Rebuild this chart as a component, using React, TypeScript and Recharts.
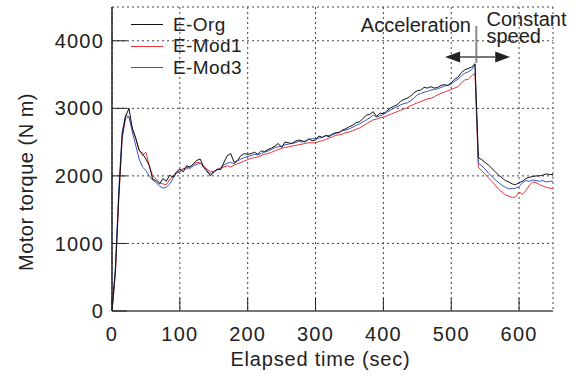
import React from 'react';
import {
  LineChart, Line, XAxis, YAxis, CartesianGrid, ReferenceLine,
} from 'recharts';

const times: number[] = [
  0, 5, 10, 15, 20, 25, 30, 35, 40, 45, 50, 55, 60, 65, 70, 75, 80, 85, 90, 95,
  100, 105, 110, 115, 120, 125, 130, 135, 140, 145, 150, 155, 160, 165, 170, 175, 180, 185, 190, 195,
  200, 205, 210, 215, 220, 225, 230, 235, 240, 245, 250, 255, 260, 265, 270, 275, 280, 285, 290, 295,
  300, 305, 310, 315, 320, 325, 330, 335, 340, 345, 350, 355, 360, 365, 370, 375, 380, 385, 390, 395,
  400, 405, 410, 415, 420, 425, 430, 435, 440, 445, 450, 455, 460, 465, 470, 475, 480, 485, 490, 495,
  500, 505, 510, 515, 520, 525, 530, 535, 540, 545, 550, 555, 560, 565, 570, 575, 580, 585, 590, 595,
  600, 605, 610, 615, 620, 625, 630, 635, 640, 645, 650,
];

const eOrg: number[] = [
  0, 600, 1700, 2600, 2880, 3000, 2700, 2560, 2380, 2330, 2250, 2150, 1950, 1930, 1880, 1960, 1920, 2010, 1980, 2060,
  2100, 2060, 2150, 2130, 2180, 2230, 2250, 2130, 2080, 2000, 2050, 2100, 2090, 2200, 2300, 2330, 2200, 2230, 2300, 2330,
  2320, 2330, 2350, 2320, 2370, 2360, 2390, 2410, 2440, 2480, 2420, 2500, 2490, 2480, 2510, 2530, 2520, 2500, 2550, 2520,
  2530, 2590, 2570, 2600, 2580, 2620, 2640, 2640, 2680, 2700, 2730, 2750, 2790, 2800, 2850, 2900, 2910, 2950, 2880, 2930,
  2920, 2960, 3000, 3030, 3050, 3100, 3130, 3150, 3180, 3230, 3260, 3270, 3310, 3300, 3320, 3300, 3310, 3340, 3350, 3340,
  3380, 3430, 3460, 3530, 3570, 3590, 3610, 3660, 2270, 2240, 2200, 2160, 2110, 2060, 2010, 1970, 1930, 1910, 1880, 1870,
  1900, 1920, 1960, 1980, 1990, 2000, 2000, 2010, 2030, 2020, 2020,
];

const eMod1: number[] = [
  0, 550, 1650, 2550, 2850, 2880, 2700, 2550, 2380, 2300, 2350, 2150, 2000, 1960, 1900, 1880, 1870, 1940, 2000, 2050,
  2070, 2110, 2100, 2140, 2170, 2200, 2190, 2150, 2100, 2060, 2070, 2090, 2110, 2130, 2150, 2130, 2160, 2180, 2200, 2220,
  2240, 2260, 2270, 2280, 2300, 2320, 2330, 2350, 2370, 2390, 2410, 2420, 2430, 2440, 2450, 2460, 2470, 2480, 2490, 2490,
  2490, 2510, 2520, 2540, 2560, 2580, 2600, 2610, 2620, 2640, 2650, 2670, 2690, 2710, 2740, 2770, 2800, 2830, 2840, 2860,
  2870, 2890, 2910, 2930, 2950, 2970, 2990, 3010, 3040, 3060, 3080, 3100, 3120, 3140, 3150, 3170, 3200, 3220, 3240, 3260,
  3280, 3300, 3320, 3380, 3420, 3430, 3480, 3520, 2120, 2080, 2020, 1970, 1920, 1860, 1800, 1760, 1720, 1700, 1680, 1690,
  1760, 1730, 1780, 1860, 1910, 1900, 1870, 1850, 1830, 1820, 1810,
];

const eMod3: number[] = [
  0, 650, 1800, 2650, 2900, 2870, 2650, 2450, 2250, 2130, 2080, 2000, 1940, 1900, 1850, 1820, 1830, 1880, 1960, 2040,
  2060, 2100, 2130, 2110, 2150, 2170, 2190, 2130, 2060, 2030, 2060, 2090, 2120, 2160, 2190, 2200, 2180, 2220, 2250, 2270,
  2290, 2300, 2320, 2310, 2330, 2350, 2370, 2390, 2420, 2430, 2440, 2460, 2470, 2480, 2490, 2510, 2500, 2520, 2540, 2550,
  2550, 2560, 2570, 2590, 2600, 2610, 2630, 2650, 2670, 2680, 2700, 2720, 2750, 2770, 2800, 2830, 2860, 2900, 2870, 2890,
  2910, 2940, 2970, 3000, 3020, 3050, 3070, 3080, 3110, 3150, 3200, 3220, 3240, 3250, 3270, 3280, 3290, 3310, 3330, 3340,
  3360, 3400, 3430, 3480, 3520, 3540, 3570, 3650, 2190, 2150, 2100, 2040, 1990, 1940, 1900, 1860, 1830, 1810, 1810, 1820,
  1840, 1900, 1930, 1920, 1940, 1930, 1920, 1930, 1910, 1920, 1920,
];

const xTicks: number[] = [0, 100, 200, 300, 400, 500, 600];
const yTicks: number[] = [0, 1000, 2000, 3000, 4000];
const seriesNames: string[] = ['E-Org', 'E-Mod1', 'E-Mod3'];
const seriesColors: string[] = ['#111111', '#e8343c', '#3558c0'];

const data = times.map((t, i) => ({ t, org: eOrg[i], mod1: eMod1[i], mod3: eMod3[i] }));

const FONT = '"Liberation Sans", Arial, sans-serif';
const TXT = '#222';

const arrowShape = (props: any) => {
  const { x1, y1, x2, y2 } = props;
  const h = 15;
  const w = 5.5;
  return (
    <g>
      <line x1={x1 + h} y1={y1} x2={x2 - h} y2={y2} stroke="#777" strokeWidth={2} />
      <polygon points={`${x1},${y1} ${x1 + h},${y1 - w} ${x1 + h},${y1 + w}`} fill="#222" />
      <polygon points={`${x2},${y2} ${x2 - h},${y2 - w} ${x2 - h},${y2 + w}`} fill="#222" />
    </g>
  );
};

const textShape = (lines: string[], anchor: 'start' | 'end', lineGap: number) => (props: any) => {
  const { x1, y1 } = props;
  return (
    <text x={x1} y={y1} textAnchor={anchor} fontFamily={FONT} fontSize={20} fill={TXT}>
      {lines.map((l, i) => (
        <tspan key={i} x={x1} dy={i === 0 ? 0 : lineGap}>{l}</tspan>
      ))}
    </text>
  );
};

const YTitle = (props: any) => {
  const vb = props.viewBox || {};
  const cx = 33;
  const cy = (vb.y ?? 7) + (vb.height ?? 304) / 2 + 23;
  return (
    <text
      x={cx} y={cy} transform={`rotate(-90, ${cx}, ${cy})`} textAnchor="middle"
      fontFamily={FONT} fontSize={20} fill={TXT} letterSpacing={0.5}
    >
      Motor torque (N m)
    </text>
  );
};

const tickStyle = { fill: TXT, fontSize: 20, fontFamily: FONT, letterSpacing: 1.2 };
const titleStyle = { fill: TXT, fontSize: 20, fontFamily: FONT, letterSpacing: 0.8 };

export default function App() {
  return (
    <div style={{ position: 'absolute', left: 0, top: 0, width: 582, height: 383, background: '#fff' }}>
      <LineChart width={582} height={383} data={data} margin={{ top: 7, right: 29, left: 0, bottom: 0 }}>
        <CartesianGrid stroke="#444" strokeDasharray="2 3" strokeWidth={1} />
        <XAxis
          dataKey="t" type="number" domain={[0, 650]} ticks={xTicks} allowDataOverflow
          height={72} tickSize={-13} tickMargin={29}
          axisLine={{ stroke: '#777', strokeWidth: 2 }} tickLine={{ stroke: '#222' }}
          tick={tickStyle}
          label={{ value: 'Elapsed time (sec)', position: 'insideBottom', offset: 17, dx: -12, style: titleStyle }}
        />
        <XAxis
          xAxisId="top" orientation="top" dataKey="t" type="number" domain={[0, 650]} ticks={xTicks}
          height={0} tickSize={-13} tickFormatter={() => ''}
          axisLine={{ stroke: '#222', strokeWidth: 1.2 }} tickLine={{ stroke: '#222' }}
        />
        <YAxis
          type="number" domain={[0, 4500]} ticks={yTicks} allowDataOverflow
          width={112} tickSize={-15} tickMargin={23}
          axisLine={{ stroke: '#222', strokeWidth: 1.5 }} tickLine={{ stroke: '#222' }}
          tick={tickStyle}
          label={<YTitle />}
        />
        <YAxis
          yAxisId="right" orientation="right" type="number" domain={[0, 4500]} ticks={yTicks}
          width={0} tickSize={-15} tickFormatter={() => ''}
          axisLine={{ stroke: '#222', strokeWidth: 1.2 }} tickLine={{ stroke: '#222' }}
        />
        <Line dataKey="mod1" name={seriesNames[1]} stroke={seriesColors[1]} strokeWidth={1} dot={false} isAnimationActive={false} />
        <Line dataKey="mod3" name={seriesNames[2]} stroke={seriesColors[2]} strokeWidth={1} dot={false} isAnimationActive={false} />
        <Line dataKey="org" name={seriesNames[0]} stroke={seriesColors[0]} strokeWidth={1} dot={false} isAnimationActive={false} />
        <ReferenceLine segment={[{ x: 537, y: 3670 }, { x: 537, y: 4220 }]} stroke="#888" strokeWidth={2} />
        <ReferenceLine segment={[{ x: 491, y: 3760 }, { x: 587, y: 3760 }]} shape={arrowShape} />
        <ReferenceLine segment={[{ x: 529, y: 4130 }, { x: 529, y: 4130 }]} shape={textShape(['Acceleration'], 'end', 0)} />
        <ReferenceLine segment={[{ x: 552, y: 4222 }, { x: 552, y: 4222 }]} shape={textShape(['Constant', 'speed'], 'start', 17)} />
      </LineChart>
      <div style={{ position: 'absolute', left: 131, top: 14, fontFamily: FONT, fontSize: 19, color: TXT, letterSpacing: 0.4 }}>
        {seriesNames.map((n, i) => (
          <div key={n} style={{ display: 'flex', alignItems: 'center', height: 21.5 }}>
            <span style={{ display: 'inline-block', width: 32, height: 0, borderTop: `1.5px solid ${seriesColors[i]}`, marginRight: 10 }} />
            <span>{n}</span>
          </div>
        ))}
      </div>
    </div>
  );
}
